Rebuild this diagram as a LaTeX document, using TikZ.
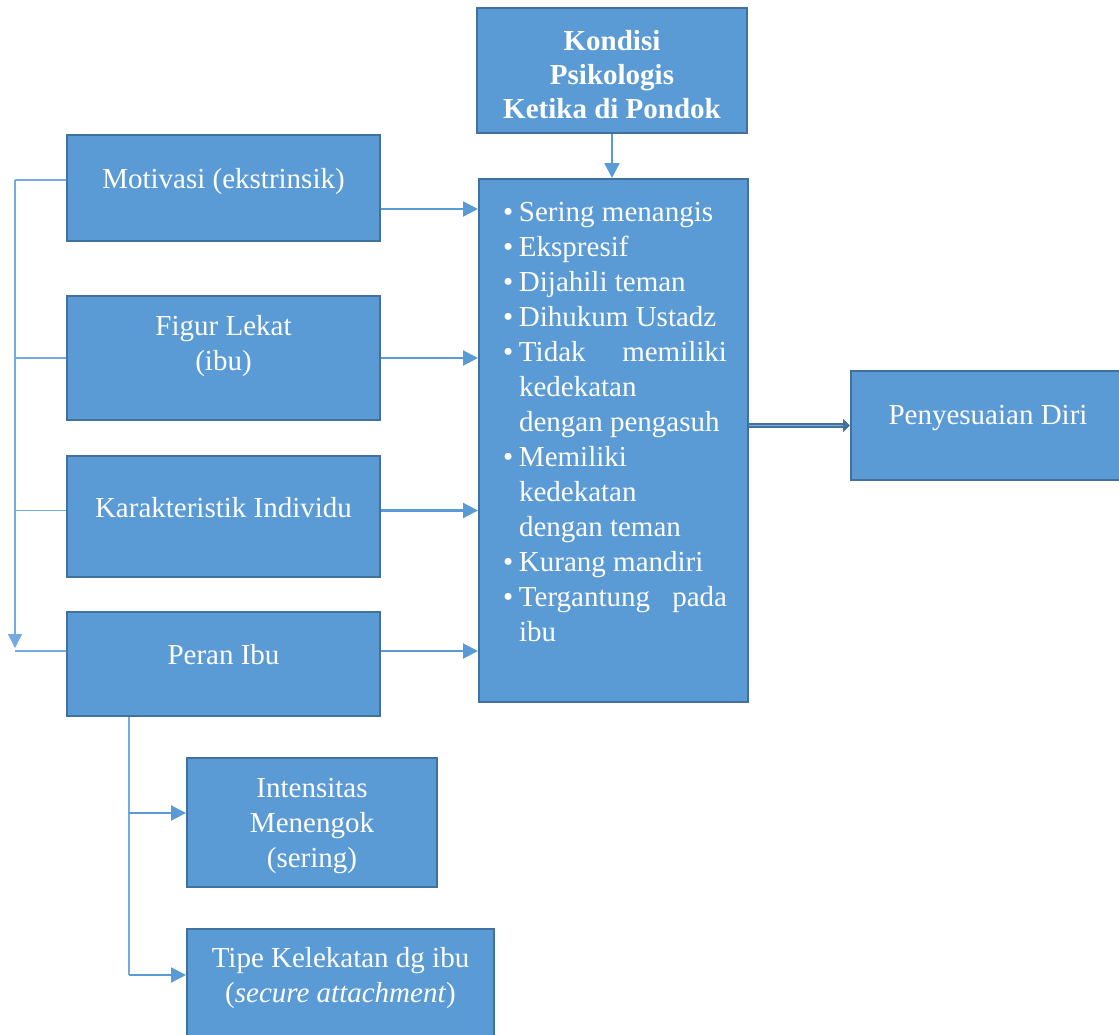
\documentclass[tikz,border=0pt]{standalone}
\usepackage{fontspec}
\setmainfont{Liberation Serif}
\usetikzlibrary{arrows.meta,calc}
\definecolor{boxfill}{HTML}{5B9BD5}
\definecolor{boxline}{HTML}{41719C}
\definecolor{conn}{HTML}{5B9BD5}
\definecolor{connlight}{HTML}{74AADF}
\definecolor{dblin}{HTML}{7FAEDD}
\newcommand\lifted[2]{\raisebox{#1}[\height][\depth]{\begin{tabular}{@{}c@{}}#2\end{tabular}}}
\newcommand\bul{\makebox[19pt][l]{\hspace{3pt}\textbullet}}
\newcommand\cont{\hspace*{19pt}}
\begin{document}
\begin{tikzpicture}[x=1pt,y=-1pt,
  box/.style={draw=boxline, fill=boxfill, line width=2pt, text=white, inner sep=0pt,
    font=\fontsize{29}{35}\selectfont},
  arr/.style={conn, line width=2.2pt, -{Triangle[length=15pt,width=15pt]}},
  thinline/.style={connlight, line width=1.5pt},
  dbl/.style={draw=boxline, line width=2pt, double=dblin, double distance=1.8pt,
    -{Triangle[length=7pt,width=13pt]}}]
\useasboundingbox (0,0) rectangle (1119,1034);

% boxes
\node[box, minimum width=270pt, minimum height=125pt, font=\fontsize{29}{34}\selectfont\bfseries] (kond) at (612,70.5)
  {\lifted{-7pt}{Kondisi\\Psikologis\\Ketika di Pondok}};
\node[box, minimum width=269pt, minimum height=523pt] (list) at (613.5,440.5)
  {\begin{minipage}[c][487pt][t]{227pt}\raggedright
   \strut\bul Sering menangis\\
   \bul Ekspresif\\
   \bul Dijahili teman\\
   \bul Dihukum Ustadz\\
   \bul\makebox[208pt][l]{Tidak\hfill memiliki}\\
   \cont kedekatan\\
   \cont dengan pengasuh\\
   \bul Memiliki\\
   \cont kedekatan\\
   \cont dengan teman\\
   \bul Kurang mandiri\\
   \bul\makebox[208pt][l]{Tergantung\hfill pada}\\
   \cont ibu
   \end{minipage}};
\node[box, minimum width=274pt, minimum height=109pt] (peny) at (988,425.5)
  {\lifted{8.5pt}{Penyesuaian Diri}};
\node[box, minimum width=313pt, minimum height=106pt] (mot) at (223.5,188)
  {\lifted{7pt}{Motivasi (ekstrinsik)}};
\node[box, minimum width=313pt, minimum height=124pt] (fig) at (223.5,358)
  {\lifted{12pt}{Figur Lekat\\(ibu)}};
\node[box, minimum width=313pt, minimum height=121pt] (kar) at (223.5,516.5)
  {\lifted{6.5pt}{Karakteristik Individu}};
\node[box, minimum width=313pt, minimum height=104pt] (per) at (223.5,664)
  {\lifted{7pt}{Peran Ibu}};
\node[box, minimum width=250pt, minimum height=129pt] (int) at (312,822.5)
  {\lifted{-3pt}{Intensitas\\Menengok\\(sering)}};
\node[box, minimum width=307pt, minimum height=115pt] (tip) at (340.5,986.5)
  {\lifted{9pt}{Tipe Kelekatan dg ibu\\(\textit{secure attachment})}};

% left bracket
\draw[thinline] ([yshift=8pt]mot.west) -- ++(-51,0) coordinate (btop);
\coordinate (perL) at ([yshift=13pt]per.west);
\coordinate (karL) at ([yshift=6pt]kar.west);
\coordinate (bend) at ([yshift=3pt]perL -| btop);
\draw[thinline, -{Triangle[length=14pt,width=14pt]}] (btop) -- (bend);
\draw[thinline] (fig.west -| btop) -- (fig.west);
\draw[thinline] (karL -| btop) -- (karL);
\draw[thinline] (perL -| btop) -- (perL);

% arrows into list
\coordinate (motR) at ([yshift=-21pt]mot.east);
\coordinate (karR) at ([yshift=6pt]kar.east);
\coordinate (perR) at ([yshift=13pt]per.east);
\draw[arr] (motR) -- (motR -| list.west);
\draw[arr] (fig.east) -- (fig.east -| list.west);
\draw[arr] (karR) -- (karR -| list.west);
\draw[arr] (perR) -- (perR -| list.west);
\draw[arr] (kond.south) -- (kond.south |- list.north);

% list to Penyesuaian
\draw[dbl] (peny.west -| list.east) -- (peny.west);

% Peran Ibu branches
\coordinate (pb) at ([xshift=63pt]per.south west);
\coordinate (intL) at ([yshift=9.5pt]int.west);
\coordinate (tipL) at ([yshift=11.5pt]tip.west);
\draw[thinline] (pb) -- (pb |- tipL);
\draw[arr] (pb |- intL) -- (intL);
\draw[arr] (pb |- tipL) -- (tipL);
\end{tikzpicture}
\end{document}
